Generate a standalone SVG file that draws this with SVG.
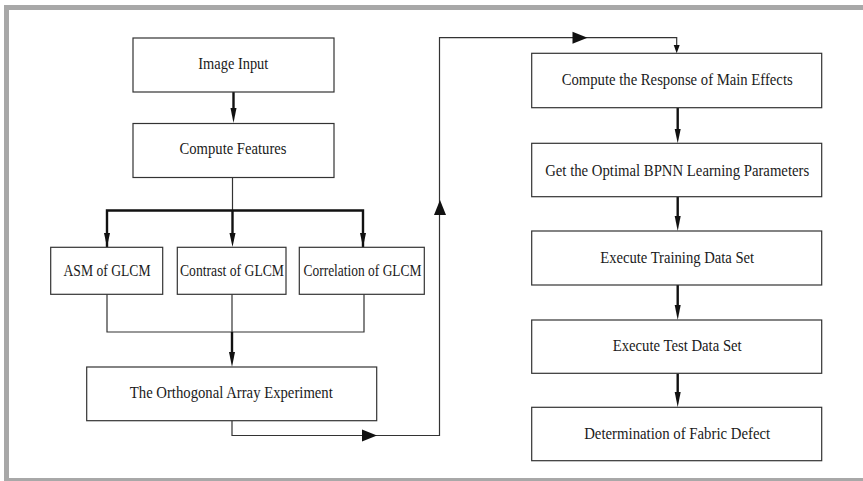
<svg xmlns="http://www.w3.org/2000/svg" width="863" height="481" viewBox="0 0 863 481">
<style>
.box{fill:#fff;stroke:#333;stroke-width:1.2}
.lbl{font-size:16px;fill:#1a1a1a;text-anchor:middle}
.thin{fill:none;stroke:#333;stroke-width:1.2}
.thick{fill:none;stroke:#111;stroke-width:2.4}
.ah{fill:#111}
</style>
<rect x="0" y="0" width="863" height="481" fill="#fff"/>
<g id="frame" fill="#a8a8a8">
<rect x="4" y="5" width="859" height="5"/>
<rect x="4" y="5" width="5" height="476"/>
<rect x="4" y="478" width="859" height="3"/>
</g>
<g id="connectors">
<path class="thick" d="M233.5 92V110"/>
<polygon class="ah" points="230.5,108 236.5,108 233.5,123"/>
<path class="thin" d="M232.5 178V210"/>
<path class="thick" d="M107 247V210.5H363V247"/>
<path class="thick" d="M232.5 210V235"/>
<polygon class="ah" points="104,233 110,233 107,247"/>
<polygon class="ah" points="229.5,233 235.5,233 232.5,247"/>
<polygon class="ah" points="360,233 366,233 363,247"/>
<path class="thin" d="M107 294V332H364V294"/>
<path class="thin" d="M232 294V332"/>
<path class="thick" d="M232 332V354"/>
<polygon class="ah" points="229,352 235,352 232,367"/>
<path class="thin" d="M232 421V435.5H439.5V37.7H676.7V50"/>
<polygon class="ah" points="362,429.5 362,441.5 377,435.5"/>
<polygon class="ah" points="434,215 446,215 440,200"/>
<polygon class="ah" points="572.5,31.7 572.5,43.7 587.5,37.7"/>
<polygon class="ah" points="673.7,45 679.7,45 676.7,53.3"/>
<path class="thick" d="M677.7 108V131"/>
<polygon class="ah" points="674.7,129 680.7,129 677.7,143.3"/>
<path class="thick" d="M677.7 197V218"/>
<polygon class="ah" points="674.7,216 680.7,216 677.7,231"/>
<path class="thick" d="M677.7 285V307"/>
<polygon class="ah" points="674.7,305 680.7,305 677.7,320"/>
<path class="thick" d="M677.7 373.3V394"/>
<polygon class="ah" points="674.7,392 680.7,392 677.7,407.3"/>
</g>
<g font-family="'Liberation Serif', 'Times New Roman', serif">
<g id="n_image_input"><rect class="box" x="133" y="38" width="201" height="54"/><text class="lbl" x="233.3" y="68.8" textLength="70" lengthAdjust="spacingAndGlyphs">Image Input</text></g>
<g id="n_compute_features"><rect class="box" x="133" y="123.5" width="201" height="54"/><text class="lbl" x="233" y="154.3" textLength="107" lengthAdjust="spacingAndGlyphs">Compute Features</text></g>
<g id="n_asm"><rect class="box" x="50.7" y="247.3" width="112" height="47"/><text class="lbl" x="107" y="275.5" textLength="87" lengthAdjust="spacingAndGlyphs">ASM of GLCM</text></g>
<g id="n_contrast"><rect class="box" x="177.3" y="247.3" width="108.7" height="47"/><text class="lbl" x="232" y="275.5" textLength="104" lengthAdjust="spacingAndGlyphs">Contrast of GLCM</text></g>
<g id="n_correlation"><rect class="box" x="299.3" y="247.3" width="125" height="47"/><text class="lbl" x="362.5" y="275.5" textLength="118" lengthAdjust="spacingAndGlyphs">Correlation of GLCM</text></g>
<g id="n_orthogonal"><rect class="box" x="86.7" y="367" width="290" height="53.7"/><text class="lbl" x="231.3" y="398.3" textLength="203" lengthAdjust="spacingAndGlyphs">The Orthogonal Array Experiment</text></g>
<g id="n_main_effects"><rect class="box" x="531.7" y="53.3" width="290" height="54.4"/><text class="lbl" x="677.2" y="85" textLength="231" lengthAdjust="spacingAndGlyphs">Compute the Response of Main Effects</text></g>
<g id="n_optimal"><rect class="box" x="531.7" y="143.3" width="290" height="53.4"/><text class="lbl" x="677.2" y="175.5" textLength="264" lengthAdjust="spacingAndGlyphs">Get the Optimal BPNN Learning Parameters</text></g>
<g id="n_training"><rect class="box" x="531.7" y="231" width="290" height="54"/><text class="lbl" x="677.2" y="262.5" textLength="154" lengthAdjust="spacingAndGlyphs">Execute Training Data Set</text></g>
<g id="n_test"><rect class="box" x="531.7" y="320" width="290" height="53.3"/><text class="lbl" x="677.2" y="351.2" textLength="129" lengthAdjust="spacingAndGlyphs">Execute Test Data Set</text></g>
<g id="n_fabric"><rect class="box" x="531.7" y="407.3" width="290" height="53.4"/><text class="lbl" x="677.2" y="438.5" textLength="186" lengthAdjust="spacingAndGlyphs">Determination of Fabric Defect</text></g>
</g>
</svg>
